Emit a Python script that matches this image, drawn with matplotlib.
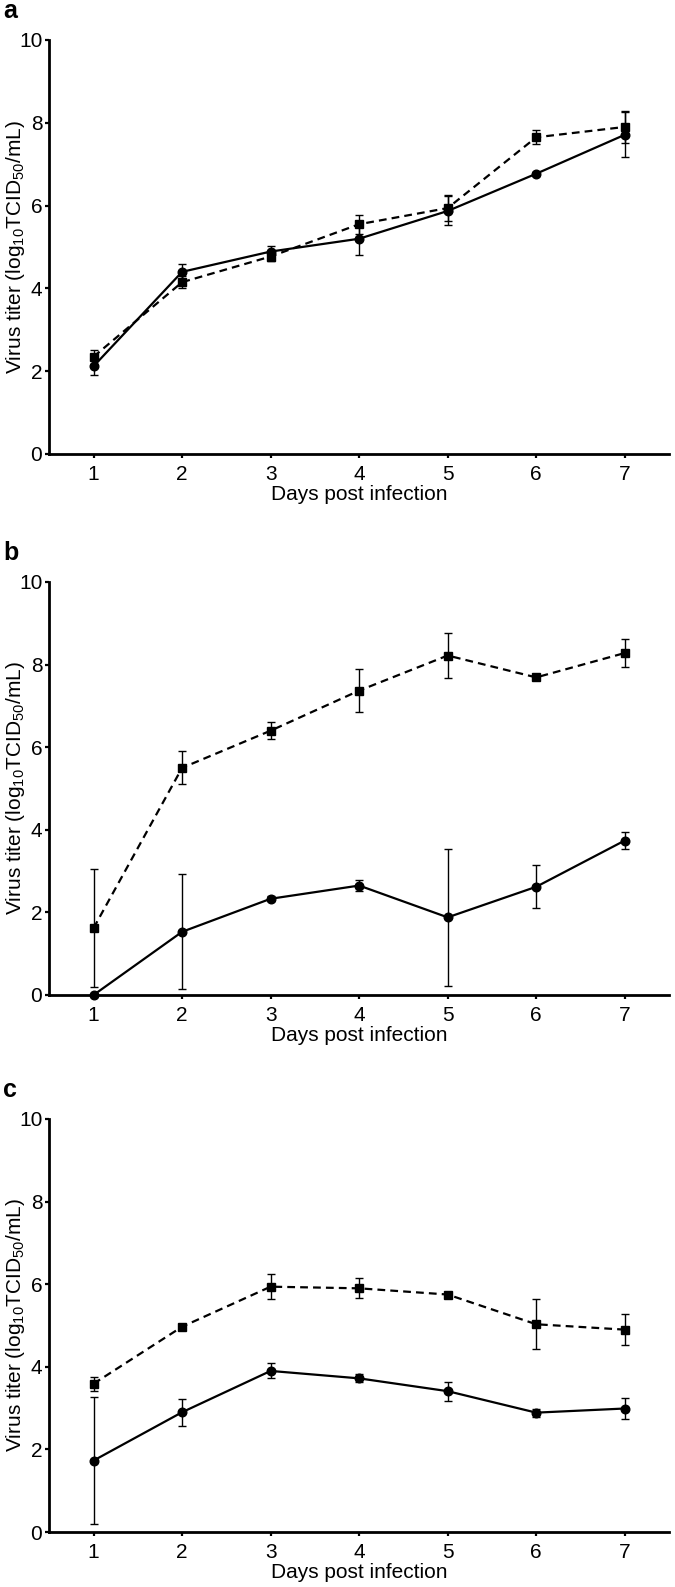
import matplotlib
matplotlib.use("Agg")
import matplotlib.pyplot as plt

plt.rcParams['font.family'] = ['Liberation Sans', 'DejaVu Sans']
plt.rcParams['mathtext.default'] = 'regular'

days = [1, 2, 3, 4, 5, 6, 7]

# panel a
a_solid = [2.12, 4.40, 4.89, 5.20, 5.87, 6.77, 7.71]
a_solid_err = [0.20, 0.18, 0.14, 0.40, 0.35, 0.05, 0.54]
a_dash = [2.35, 4.15, 4.77, 5.55, 5.94, 7.65, 7.90]
a_dash_err = [0.17, 0.15, 0.10, 0.23, 0.32, 0.17, 0.39]

# panel b
b_solid = [0.0, 1.53, 2.33, 2.65, 1.88, 2.62, 3.74]
b_solid_err = [0.0, 1.39, 0.06, 0.13, 1.66, 0.52, 0.20]
b_dash = [1.62, 5.50, 6.40, 7.37, 8.22, 7.69, 8.28]
b_dash_err = [1.43, 0.40, 0.20, 0.52, 0.54, 0.0, 0.35]

# panel c
c_solid = [1.73, 2.90, 3.90, 3.72, 3.41, 2.89, 2.99]
c_solid_err = [1.53, 0.33, 0.18, 0.10, 0.23, 0.10, 0.26]
c_dash = [3.59, 4.97, 5.94, 5.90, 5.75, 5.03, 4.90]
c_dash_err = [0.17, 0.0, 0.31, 0.24, 0.0, 0.60, 0.38]

panels = [
    ('a', a_solid, a_solid_err, a_dash, a_dash_err),
    ('b', b_solid, b_solid_err, b_dash, b_dash_err),
    ('c', c_solid, c_solid_err, c_dash, c_dash_err),
]

W, H = 675, 1587
fig = plt.figure(figsize=(W / 100, H / 100), dpi=100)

# axes top / bottom in pixels
boxes = [(40, 454), (582, 995), (1119, 1532)]
left_px, right_px = 49.3, 669

for (letter, ys, yse, yd, yde), (top, bot) in zip(panels, boxes):
    ax = fig.add_axes([left_px / W, 1 - bot / H, (right_px - left_px) / W, (bot - top) / H])

    ax.errorbar(days, yd, yerr=yde, color='black', lw=1.6, ls=(0, (3.5, 2.3)),
                marker='s', ms=5.8, capsize=3, elinewidth=1.0, capthick=1.0,
                clip_on=False, zorder=3)
    ax.errorbar(days, ys, yerr=yse, color='black', lw=1.6, ls='-',
                marker='o', ms=6.2, capsize=3, elinewidth=1.0, capthick=1.0,
                clip_on=False, zorder=4)

    ax.set_xlim(0.5, 7.5)
    ax.set_ylim(0, 10)
    ax.set_xticks(days)
    ax.set_yticks([0, 2, 4, 6, 8, 10])
    for s in ['top', 'right']:
        ax.spines[s].set_visible(False)
    for s in ['left', 'bottom']:
        ax.spines[s].set_linewidth(2)
    ax.tick_params(axis='both', direction='out', length=3, width=1.6,
                   labelsize=15, pad=2)
    ax.tick_params(axis='x', pad=5)

    ax.set_xlabel('Days post infection', fontsize=15)
    ax.set_ylabel(r'Virus titer (log$_{10}$TCID$_{50}$/mL)', fontsize=15)
    ax.yaxis.set_label_coords(-0.036, 0.5)
    ax.xaxis.set_label_coords(0.5, -0.075)

    fig.text(3 / W, 1 - (top - 22) / H, letter, fontsize=18, fontweight='bold',
             va='baseline', ha='left')

fig.savefig('out.png', dpi=100)
